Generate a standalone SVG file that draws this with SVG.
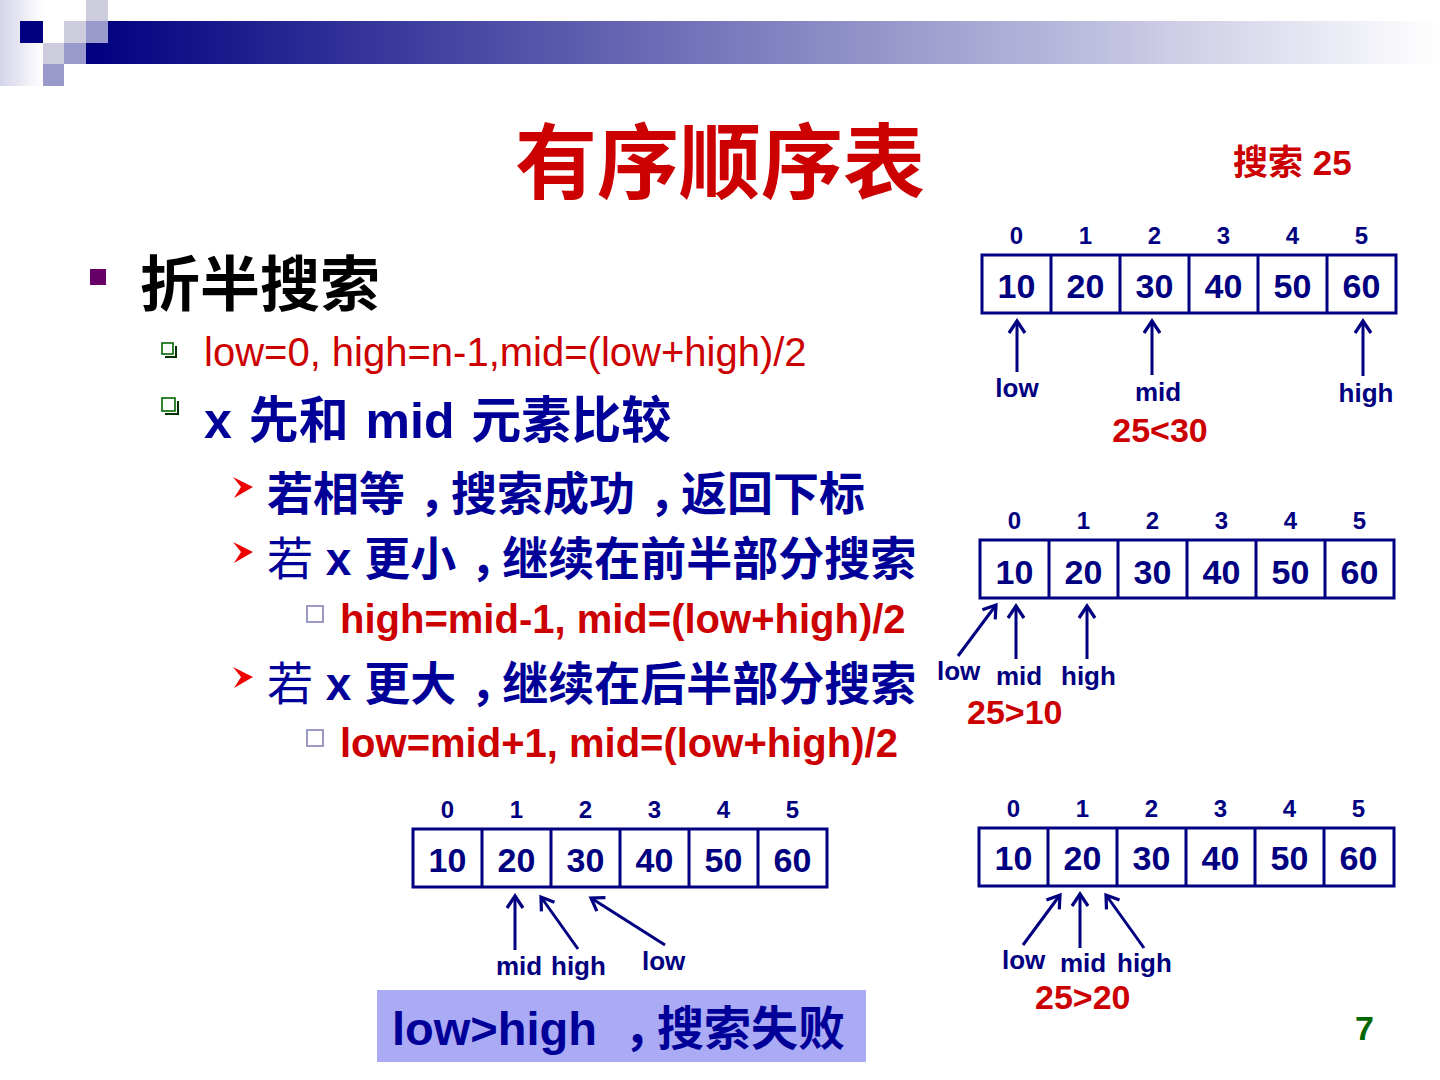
<svg xmlns="http://www.w3.org/2000/svg" width="1440" height="1080" viewBox="0 0 1440 1080">
<defs>
<linearGradient id="band" x1="86" y1="0" x2="1440" y2="0" gradientUnits="userSpaceOnUse">
<stop offset="0" stop-color="#000080"/>
<stop offset="1" stop-color="#ffffff"/>
</linearGradient>
<linearGradient id="fade" x1="0" y1="0" x2="1" y2="0">
<stop offset="0" stop-color="#d4d4e8"/>
<stop offset="1" stop-color="#ffffff"/>
</linearGradient>
<marker id="ah" viewBox="-16 -10 18 20" refX="0" refY="0" markerWidth="18" markerHeight="20" markerUnits="userSpaceOnUse" orient="auto" overflow="visible">
<path d="M -12 -8 L 0 0 L -12 8" fill="none" stroke="#000080" stroke-width="3.2" stroke-linejoin="miter"/>
</marker>
<style>
text{font-family:"Liberation Sans","Noto Sans CJK SC",sans-serif}
.b{font-weight:bold}
.blue{fill:#000099}
.red{fill:#cc0000}
.cm{letter-spacing:-14px}
.idx{font-size:24px;font-weight:bold;fill:#000080;text-anchor:middle}
.num{font-size:34px;font-weight:bold;fill:#000080;text-anchor:middle}
.lbl{font-size:26px;font-weight:bold;fill:#000080}
.cmp{font-size:34px;font-weight:bold;fill:#cc0000}
.cell{fill:#ffffff;stroke:#000080;stroke-width:3}
.div{stroke:#000080;stroke-width:3}
.arr{stroke:#000080;stroke-width:3;fill:none;marker-end:url(#ah)}
.sq{fill:#ffffff;stroke:#9a9ac4;stroke-width:2}
.gb{fill:#ffffff;stroke:#006600;stroke-width:1.6}
.gs{fill:none;stroke:#003300;stroke-width:2}
</style>
</defs>
<rect width="1440" height="1080" fill="#ffffff"/>
<g id="header">
<rect x="0" y="0" width="43" height="86" fill="url(#fade)"/>
<rect x="86" y="21" width="1354" height="43" fill="url(#band)"/>
<rect x="20" y="21" width="23" height="22" fill="#000080"/>
<rect x="86" y="0" width="22" height="21" fill="#ccccdd"/>
<rect x="64" y="21" width="22" height="22" fill="#ccccdd"/>
<rect x="86" y="21" width="22" height="22" fill="#9999cc"/>
<rect x="43" y="43" width="21" height="21" fill="#ccccdd"/>
<rect x="64" y="43" width="22" height="21" fill="#9999cc"/>
<rect x="43" y="64" width="21" height="22" fill="#9999cc"/>
</g>
<g id="title">
<text x="720" y="192" class="b red" font-size="82" text-anchor="middle">有序顺序表</text>
<text x="1233" y="175" class="b red" font-size="35">搜索 25</text>
</g>
<g id="bullets">
<rect x="90" y="269" width="16" height="16" fill="#660066"/>
<text x="140" y="306" class="b" font-size="60" fill="#000000">折半搜索</text>
<path d="M165 357 H176 V346" class="gs"/>
<rect x="162" y="343" width="11" height="11" class="gb"/>
<text x="204" y="366" class="red" font-size="40">low=0, high=n-1,mid=(low+high)/2</text>
<path d="M165 414 H178 V401" class="gs"/>
<rect x="162" y="398" width="13" height="13" class="gb"/>
<text x="204" y="438" class="b blue" font-size="50" word-spacing="3">x 先和 mid 元素比较</text>
<polygon points="233,477 253,487 234,498 241,487" fill="#ee0000"/>
<text x="267" y="510" class="b blue" font-size="46">若相等<tspan dx="14" class="cm">，</tspan>搜索成功<tspan dx="14" class="cm">，</tspan>返回下标</text>
<polygon points="233,542 253,552 234,563 241,552" fill="#ee0000"/>
<text x="267" y="575" class="blue" font-size="46"><tspan font-weight="normal">若</tspan><tspan font-weight="bold"> x 更小<tspan dx="14" class="cm">，</tspan>继续在前半部分搜索</tspan></text>
<rect x="307" y="606" width="16" height="16" class="sq"/>
<text x="340" y="633" class="b red" font-size="40">high=mid-1, mid=(low+high)/2</text>
<polygon points="233,667 253,677 234,688 241,677" fill="#ee0000"/>
<text x="267" y="700" class="blue" font-size="46"><tspan font-weight="normal">若</tspan><tspan font-weight="bold"> x 更大<tspan dx="14" class="cm">，</tspan>继续在后半部分搜索</tspan></text>
<rect x="307" y="730" width="16" height="16" class="sq"/>
<text x="340" y="757" class="b red" font-size="40">low=mid+1, mid=(low+high)/2</text>
</g>
<g id="array1">
<rect x="982" y="255" width="414" height="58" class="cell"/>
<path d="M1051 255V313M1120 255V313M1189 255V313M1258 255V313M1327 255V313" class="div"/>
<text class="idx" y="244"><tspan x="1016.5">0</tspan><tspan x="1085.5">1</tspan><tspan x="1154.5">2</tspan><tspan x="1223.5">3</tspan><tspan x="1292.5">4</tspan><tspan x="1361.5">5</tspan></text>
<text class="num" y="298"><tspan x="1016.5">10</tspan><tspan x="1085.5">20</tspan><tspan x="1154.5">30</tspan><tspan x="1223.5">40</tspan><tspan x="1292.5">50</tspan><tspan x="1361.5">60</tspan></text>
<text class="lbl" x="1017" y="397" text-anchor="middle">low</text>
<text class="lbl" x="1158" y="401" text-anchor="middle">mid</text>
<text class="lbl" x="1366" y="402" text-anchor="middle">high</text>
<text class="cmp" x="1160" y="442" text-anchor="middle">25&lt;30</text>
</g>
<g id="array2">
<rect x="980" y="540" width="414" height="58" class="cell"/>
<path d="M1049 540V598M1118 540V598M1187 540V598M1256 540V598M1325 540V598" class="div"/>
<text class="idx" y="529"><tspan x="1014.5">0</tspan><tspan x="1083.5">1</tspan><tspan x="1152.5">2</tspan><tspan x="1221.5">3</tspan><tspan x="1290.5">4</tspan><tspan x="1359.5">5</tspan></text>
<text class="num" y="584"><tspan x="1014.5">10</tspan><tspan x="1083.5">20</tspan><tspan x="1152.5">30</tspan><tspan x="1221.5">40</tspan><tspan x="1290.5">50</tspan><tspan x="1359.5">60</tspan></text>
<text class="lbl" x="937" y="680">low</text>
<text class="lbl" x="996" y="685">mid</text>
<text class="lbl" x="1061" y="685">high</text>
<text class="cmp" x="967" y="724">25&gt;10</text>
</g>
<g id="array3">
<rect x="979" y="828" width="415" height="58" class="cell"/>
<path d="M1048 828V886M1117 828V886M1186 828V886M1255 828V886M1324 828V886" class="div"/>
<text class="idx" y="817"><tspan x="1013.5">0</tspan><tspan x="1082.5">1</tspan><tspan x="1151.5">2</tspan><tspan x="1220.5">3</tspan><tspan x="1289.5">4</tspan><tspan x="1358.5">5</tspan></text>
<text class="num" y="870"><tspan x="1013.5">10</tspan><tspan x="1082.5">20</tspan><tspan x="1151.5">30</tspan><tspan x="1220.5">40</tspan><tspan x="1289.5">50</tspan><tspan x="1358.5">60</tspan></text>
<text class="lbl" x="1002" y="969">low</text>
<text class="lbl" x="1060" y="972">mid</text>
<text class="lbl" x="1117" y="972">high</text>
<text class="cmp" x="1035" y="1009">25&gt;20</text>
</g>
<g id="array4">
<rect x="413" y="829" width="414" height="58" class="cell"/>
<path d="M482 829V887M551 829V887M620 829V887M689 829V887M758 829V887" class="div"/>
<text class="idx" y="818"><tspan x="447.5">0</tspan><tspan x="516.5">1</tspan><tspan x="585.5">2</tspan><tspan x="654.5">3</tspan><tspan x="723.5">4</tspan><tspan x="792.5">5</tspan></text>
<text class="num" y="872"><tspan x="447.5">10</tspan><tspan x="516.5">20</tspan><tspan x="585.5">30</tspan><tspan x="654.5">40</tspan><tspan x="723.5">50</tspan><tspan x="792.5">60</tspan></text>
<text class="lbl" x="496" y="975">mid</text>
<text class="lbl" x="551" y="975">high</text>
<text class="lbl" x="642" y="970">low</text>
</g>
<g id="connectors">
<line x1="1017" y1="372" x2="1017" y2="321" class="arr"/>
<line x1="1152" y1="375" x2="1152" y2="321" class="arr"/>
<line x1="1363" y1="376" x2="1363" y2="321" class="arr"/>
<line x1="958" y1="656" x2="996" y2="605" class="arr"/>
<line x1="1016" y1="659" x2="1016" y2="606" class="arr"/>
<line x1="1087" y1="659" x2="1087" y2="606" class="arr"/>
<line x1="1023" y1="945" x2="1060" y2="895" class="arr"/>
<line x1="1080" y1="948" x2="1080" y2="894" class="arr"/>
<line x1="1144" y1="948" x2="1106" y2="895" class="arr"/>
<line x1="515" y1="950" x2="515" y2="896" class="arr"/>
<line x1="578" y1="949" x2="541" y2="897" class="arr"/>
<line x1="665" y1="945" x2="591" y2="898" class="arr"/>
</g>
<g id="result">
<rect x="377" y="990" width="489" height="72" fill="#aaaaf5"/>
<text x="392" y="1045" class="b blue" font-size="47">low&gt;high <tspan dx="14" class="cm">，</tspan>搜索失败</text>
</g>
<g id="page">
<text x="1355" y="1040" class="b" font-size="34" fill="#006600">7</text>
</g>
</svg>
